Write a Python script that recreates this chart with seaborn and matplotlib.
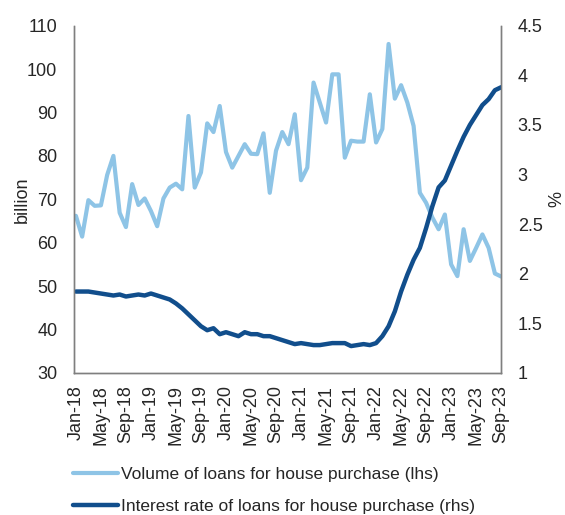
import numpy as np
import pandas as pd
import seaborn as sns
import matplotlib.pyplot as plt

# =========================
# DATA (monthly, Jan-18 .. Sep-23)
# =========================
months = pd.date_range("2018-01-01", "2023-09-01", freq="MS")

volume_bn = [
    66.2, 61.4, 69.8, 68.5, 68.6, 75.6, 80.0, 66.9, 63.6, 73.5,
    68.7, 70.2, 67.3, 63.8, 70.2, 72.7, 73.6, 72.3, 89.2, 72.7,
    76.2, 87.5, 85.5, 91.5, 80.9, 77.3, 80.0, 82.7, 80.5, 80.4,
    85.2, 71.5, 81.2, 85.5, 82.7, 89.6, 74.4, 77.3, 96.9, 92.3,
    87.7, 98.8, 98.8, 79.6, 83.5, 83.3, 83.3, 94.2, 83.1, 86.2,
    105.8, 93.2, 96.3, 92.3, 86.9, 71.5, 69.2, 65.8, 63.1, 66.5,
    55.0, 52.3, 63.1, 55.8, 58.8, 61.9, 58.8, 52.9, 52.2,
]

rate_pct = [
    1.82, 1.82, 1.82, 1.81, 1.80, 1.79, 1.78, 1.79, 1.77, 1.78,
    1.79, 1.78, 1.80, 1.78, 1.76, 1.74, 1.70, 1.65, 1.59, 1.53,
    1.47, 1.43, 1.45, 1.39, 1.41, 1.39, 1.37, 1.41, 1.39, 1.39,
    1.37, 1.37, 1.35, 1.33, 1.31, 1.29, 1.30, 1.29, 1.28, 1.28,
    1.29, 1.30, 1.30, 1.30, 1.27, 1.28, 1.29, 1.28, 1.30, 1.37,
    1.47, 1.62, 1.82, 1.99, 2.14, 2.26, 2.46, 2.68, 2.87, 2.94,
    3.09, 3.24, 3.38, 3.50, 3.60, 3.70, 3.76, 3.85, 3.88,
]

tick_every = 4
light_blue = "#8EC4E6"
dark_blue = "#114E8C"

df = pd.DataFrame({
    "pos": np.arange(len(months)),
    "volume": volume_bn,
    "rate": rate_pct,
})

# =========================
# Plot
# =========================
sns.set_style("white")
plt.rcParams["font.family"] = ["Liberation Sans", "DejaVu Sans"]
FS = 13

fig = plt.figure(figsize=(5.65, 5.15), dpi=100)
ax = fig.add_axes([0.131, 0.276, 0.756, 0.674])
ax2 = ax.twinx()

sns.lineplot(data=df, x="pos", y="volume", ax=ax, color=light_blue,
             linewidth=3.0, label="Volume of loans for house purchase (lhs)",
             legend=False)
sns.lineplot(data=df, x="pos", y="rate", ax=ax2, color=dark_blue,
             linewidth=3.2, label="Interest rate of loans for house purchase (rhs)",
             legend=False)

ax.set_xlim(-0.3, len(months) - 1)
ax.set_ylim(30, 110)
ax.set_yticks(np.arange(30, 111, 10))
ax2.set_ylim(1, 4.5)
ax2.set_yticks(np.arange(1, 4.51, 0.5))
ax2.set_yticklabels([f"{v:g}" for v in np.arange(1, 4.51, 0.5)])

pos = df["pos"].values[::tick_every]
ax.set_xticks(pos)
ax.set_xticklabels([m.strftime("%b-%y") for m in months[::tick_every]], rotation=90)

ax.set_xlabel("")
ax.set_ylabel("billion", fontsize=FS, labelpad=-3)
ax2.set_ylabel("%", fontsize=FS, labelpad=4)

for a in (ax, ax2):
    a.tick_params(axis="y", labelsize=FS, length=0, pad=12)
    a.tick_params(axis="x", labelsize=FS, length=0, pad=9)
    for side in ("left", "right", "bottom"):
        a.spines[side].set_color("#7f7f7f")
        a.spines[side].set_linewidth(1.0)
    a.spines["top"].set_visible(False)
    a.grid(False)

h1, l1 = ax.get_legend_handles_labels()
h2, l2 = ax2.get_legend_handles_labels()
fig.legend(h1 + h2, l1 + l2, loc="lower left", bbox_to_anchor=(0.101, -0.028),
           frameon=False, fontsize=12.5, handlelength=2.6, handletextpad=0.2,
           labelspacing=0.95)

fig.savefig("out.png", dpi=100)
